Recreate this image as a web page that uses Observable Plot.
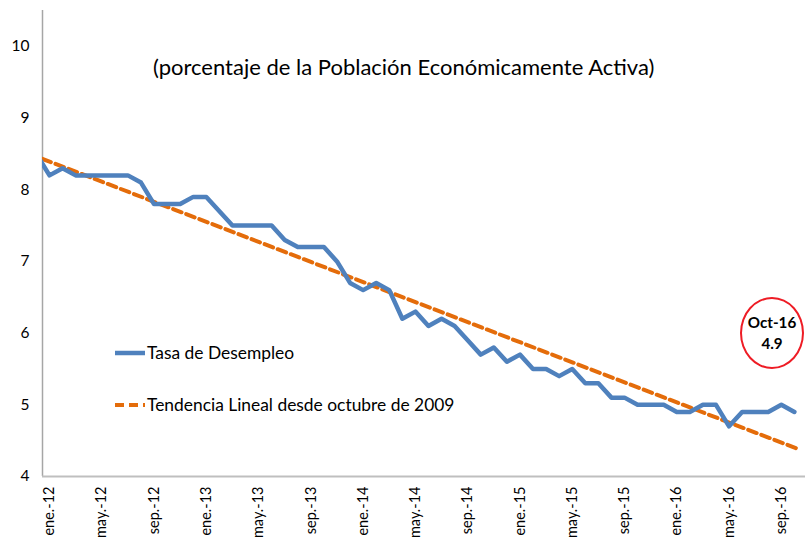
<!DOCTYPE html>
<html>
<head>
<meta charset="utf-8">
<script src="https://cdn.jsdelivr.net/npm/d3@7"></script>
<script src="https://cdn.jsdelivr.net/npm/@observablehq/plot@0.6"></script>
<style>
  html, body { margin: 0; padding: 0; background: #fff; }
  #wrap { position: relative; width: 805px; height: 541px; font-family: Lato, "Open Sans", sans-serif; color: #000; }
  #wrap svg { display: block; }
  .ov { position: absolute; white-space: nowrap; }
  .leg { position: absolute; display: flex; align-items: center; font-size: 17.4px; white-space: nowrap; }
  .leg svg { margin-right: 1px; }
  #anno { position: absolute; left: 740px; top: 297px; width: 60px; height: 68px; border: 2px solid #ee1c25; border-radius: 50%;
          display: flex; flex-direction: column; align-items: center; justify-content: center; font-weight: bold; font-size: 15.2px; line-height: 21px; }
</style>
</head>
<body>
<div id="wrap"></div>
<script>
// Unemployment rate, monthly, from dic.-11 (partly clipped at the axis) to oct.-16
const firstMonthIndex = -1; // dic.-11, ene.-12 = 0
const rate = [
  8.5,
  8.2, 8.3, 8.2, 8.2, 8.2, 8.2, 8.2, 8.1, 7.8, 7.8, 7.8, 7.9,
  7.9, 7.7, 7.5, 7.5, 7.5, 7.5, 7.3, 7.2, 7.2, 7.2, 7.0, 6.7,
  6.6, 6.7, 6.6, 6.2, 6.3, 6.1, 6.2, 6.1, 5.9, 5.7, 5.8, 5.6,
  5.7, 5.5, 5.5, 5.4, 5.5, 5.3, 5.3, 5.1, 5.1, 5.0, 5.0, 5.0,
  4.9, 4.9, 5.0, 5.0, 4.7, 4.9, 4.9, 4.9, 5.0, 4.9
];
// Linear trend since October 2009 (visible segment endpoints)
const trendMonths = [-0.54, 57.2];
const trendValues = [8.43, 4.39];
// Axis ticks
const yTicks = [4, 5, 6, 7, 8, 9, 10];
const xTickLabels = ["ene.-12","may.-12","sep.-12","ene.-13","may.-13","sep.-13","ene.-14","may.-14","sep.-14","ene.-15","may.-15","sep.-15","ene.-16","may.-16","sep.-16"];
const xTickStep = 4;
// Texts
const subtitle = "(porcentaje de la Población Económicamente Activa)";
const seriesNames = ["Tasa de Desempleo", "Tendencia Lineal desde octubre de 2009"];
const annotation = ["Oct-16", "4.9"];

const colors = ["#4F81BD", "#E46C0A"];

const series = rate.map((v, k) => ({i: k + firstMonthIndex, v}));
const trend = trendMonths.map((m, k) => ({i: m, v: trendValues[k]}));
const xTicks = xTickLabels.map((_, k) => k * xTickStep);

const chart = Plot.plot({
  width: 805,
  height: 541,
  marginLeft: 42,
  marginRight: 0,
  marginTop: 10,
  marginBottom: 65,
  x: {domain: [-0.535, 57.85], axis: null},
  y: {domain: [4, 10.5], axis: null},
  style: {fontFamily: "Lato, 'Open Sans', sans-serif", background: "white", color: "#000"},
  marks: [
    Plot.axisY({ticks: yTicks, tickSize: 0, tickPadding: 13, fontSize: 15.5, tickFormat: d => String(d), label: null}),
    Plot.axisX({ticks: xTicks, tickFormat: (d, k) => xTickLabels[k], tickRotate: -90, tickSize: 0, tickPadding: 10, fontSize: 14.5, label: null}),
    Plot.ruleX([-0.535], {stroke: "#a6a6a6", strokeWidth: 1.5}),
    Plot.ruleY([4], {stroke: "#bfbfbf", strokeWidth: 2}),
    Plot.line(trend, {x: "i", y: "v", stroke: colors[1], strokeWidth: 4, strokeDasharray: "9,5", clip: true}),
    Plot.line(series, {x: "i", y: "v", stroke: colors[0], strokeWidth: 4.5, clip: true})
  ]
});

const wrap = document.getElementById("wrap");
wrap.appendChild(chart);

const sub = document.createElement("div");
sub.className = "ov";
sub.style.cssText = "left:153px;top:53px;font-size:22px;";
sub.textContent = subtitle;
wrap.appendChild(sub);

function legendItem(name, color, dashed, top) {
  const d = document.createElement("div");
  d.className = "leg";
  d.style.left = "114px";
  d.style.top = top + "px";
  d.innerHTML = `<svg width="32" height="8"><line x1="1" y1="4" x2="31" y2="4" stroke="${color}" stroke-width="${dashed ? 4 : 4.5}" ${dashed ? 'stroke-dasharray="9,5"' : ''}/></svg>`;
  const s = document.createElement("span");
  s.textContent = name;
  d.appendChild(s);
  wrap.appendChild(d);
}
legendItem(seriesNames[0], colors[0], false, 342);
legendItem(seriesNames[1], colors[1], true, 394);

const anno = document.createElement("div");
anno.id = "anno";
anno.innerHTML = `<span>${annotation[0]}</span><span>${annotation[1]}</span>`;
wrap.appendChild(anno);
</script>
</body>
</html>
